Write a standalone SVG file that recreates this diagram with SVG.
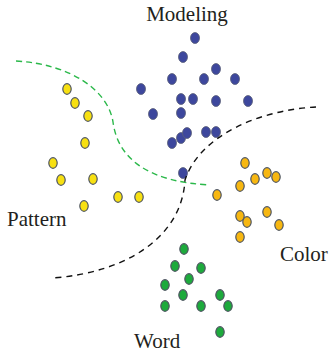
<svg xmlns="http://www.w3.org/2000/svg" width="329" height="355" viewBox="0 0 329 355">
<style>
.lbl{font-family:"Liberation Serif","Times New Roman",serif;font-size:21px;fill:#231f20}
.b{fill:#3d479d;stroke:#5b6079;stroke-width:0.8}
.y{fill:#f7e012;stroke:#4f5662;stroke-width:1.2}
.o{fill:#f7b711;stroke:#4f5662;stroke-width:1.2}
.g{fill:#1daa3c;stroke:#4f5662;stroke-width:1.2}
.gd{fill:none;stroke:#2bb84a;stroke-width:1.4;stroke-dasharray:6 4}
.kd{fill:none;stroke:#111;stroke-width:1.4;stroke-dasharray:6 5}
</style>
<rect width="329" height="355" fill="#fff"/>
<g id="modeling">
<ellipse class="b" cx="195" cy="38" rx="4.5" ry="5.5"/>
<ellipse class="b" cx="183" cy="57" rx="4.5" ry="5.5"/>
<ellipse class="b" cx="172" cy="79" rx="4.5" ry="5.5"/>
<ellipse class="b" cx="204" cy="79" rx="4.5" ry="5.5"/>
<ellipse class="b" cx="216" cy="69" rx="4.5" ry="5.5"/>
<ellipse class="b" cx="235" cy="79" rx="4.5" ry="5.5"/>
<ellipse class="b" cx="141" cy="89" rx="4.5" ry="5.5"/>
<ellipse class="b" cx="181" cy="99" rx="4.5" ry="5.5"/>
<ellipse class="b" cx="193" cy="99" rx="4.5" ry="5.5"/>
<ellipse class="b" cx="216" cy="101" rx="4.5" ry="5.5"/>
<ellipse class="b" cx="248" cy="101" rx="4.5" ry="5.5"/>
<ellipse class="b" cx="153" cy="114" rx="4.5" ry="5.5"/>
<ellipse class="b" cx="181" cy="113" rx="4.5" ry="5.5"/>
<ellipse class="b" cx="172" cy="143" rx="4.5" ry="5.5"/>
<ellipse class="b" cx="181" cy="138" rx="4.5" ry="5.5"/>
<ellipse class="b" cx="187" cy="133" rx="4.5" ry="5.5"/>
<ellipse class="b" cx="206" cy="132" rx="4.5" ry="5.5"/>
<ellipse class="b" cx="216" cy="132" rx="4.5" ry="5.5"/>
<ellipse class="b" cx="183" cy="173" rx="4.5" ry="5.5"/>
<text class="lbl" x="187" y="21" text-anchor="middle">Modeling</text>
</g>
<g id="pattern">
<ellipse class="y" cx="67" cy="89" rx="4.2" ry="5.3"/>
<ellipse class="y" cx="75" cy="103" rx="4.2" ry="5.3"/>
<ellipse class="y" cx="88" cy="116" rx="4.2" ry="5.3"/>
<ellipse class="y" cx="85" cy="143" rx="4.2" ry="5.3"/>
<ellipse class="y" cx="53" cy="163" rx="4.2" ry="5.3"/>
<ellipse class="y" cx="61" cy="180" rx="4.2" ry="5.3"/>
<ellipse class="y" cx="93" cy="179" rx="4.2" ry="5.3"/>
<ellipse class="y" cx="84" cy="206" rx="4.2" ry="5.3"/>
<ellipse class="y" cx="118" cy="197" rx="4.2" ry="5.3"/>
<ellipse class="y" cx="139" cy="197" rx="4.2" ry="5.3"/>
<text class="lbl" x="7" y="226">Pattern</text>
</g>
<g id="color">
<ellipse class="o" cx="245" cy="163" rx="4.2" ry="5.3"/>
<ellipse class="o" cx="255" cy="179" rx="4.2" ry="5.3"/>
<ellipse class="o" cx="267" cy="173" rx="4.2" ry="5.3"/>
<ellipse class="o" cx="276" cy="177" rx="4.2" ry="5.3"/>
<ellipse class="o" cx="240" cy="186" rx="4.2" ry="5.3"/>
<ellipse class="o" cx="217" cy="195" rx="4.2" ry="5.3"/>
<ellipse class="o" cx="240" cy="216" rx="4.2" ry="5.3"/>
<ellipse class="o" cx="247" cy="222" rx="4.2" ry="5.3"/>
<ellipse class="o" cx="267" cy="212" rx="4.2" ry="5.3"/>
<ellipse class="o" cx="279" cy="225" rx="4.2" ry="5.3"/>
<ellipse class="o" cx="240" cy="237" rx="4.2" ry="5.3"/>
<text class="lbl" x="280" y="261">Color</text>
</g>
<g id="word">
<ellipse class="g" cx="184" cy="249" rx="4.2" ry="5.3"/>
<ellipse class="g" cx="175" cy="266" rx="4.2" ry="5.3"/>
<ellipse class="g" cx="201" cy="268" rx="4.2" ry="5.3"/>
<ellipse class="g" cx="189" cy="279" rx="4.2" ry="5.3"/>
<ellipse class="g" cx="165" cy="285" rx="4.2" ry="5.3"/>
<ellipse class="g" cx="183" cy="295" rx="4.2" ry="5.3"/>
<ellipse class="g" cx="165" cy="306" rx="4.2" ry="5.3"/>
<ellipse class="g" cx="201" cy="306" rx="4.2" ry="5.3"/>
<ellipse class="g" cx="220" cy="295" rx="4.2" ry="5.3"/>
<ellipse class="g" cx="228" cy="306" rx="4.2" ry="5.3"/>
<ellipse class="g" cx="220" cy="332" rx="4.2" ry="5.3"/>
<text class="lbl" x="134" y="348">Word</text>
</g>
<g id="connectors">
<path class="gd" d="M16,61 C70,64 108,90 113,122 C118,160 150,182 210,185"/>
<path class="kd" d="M316,107 C260,110 200,135 185,180 C182,235 130,272 53,278"/>
</g>
</svg>
